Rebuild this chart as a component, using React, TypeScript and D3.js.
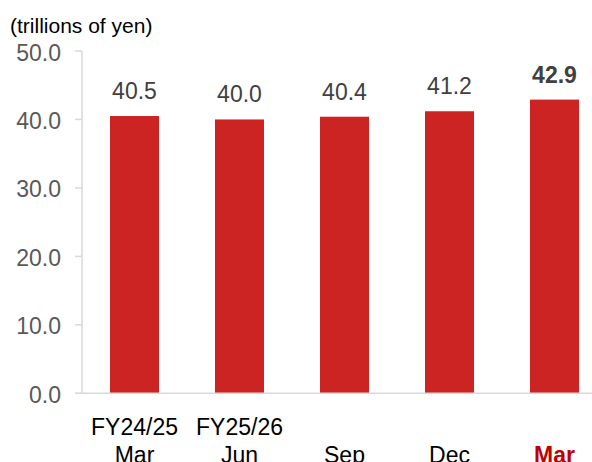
import React from "react";
import * as d3 from "d3";

const categories = ["FY24/25 Mar", "FY25/26 Jun", "Sep", "Dec", "Mar"];
const labelLine1 = ["FY24/25", "FY25/26", "", "", ""];
const labelLine2 = ["Mar", "Jun", "Sep", "Dec", "Mar"];
const values = [40.5, 40.0, 40.4, 41.2, 42.9];
const yTicks = [0, 10, 20, 30, 40, 50];
const unitLabel = "(trillions of yen)";

const W = 592;
const H = 462;
const FONT = "'Liberation Sans', Arial, Helvetica, sans-serif";

export default function App() {
  const x = d3.scaleBand<string>().domain(categories).range([82, 607]).paddingInner(0.5333).paddingOuter(0.2667);
  const y = d3.scaleLinear().domain([0, 50]).range([393.3, 51]);
  const last = categories.length - 1;
  const axisColor = "#d9d9d9";
  return (
    <svg width={W} height={H} style={{ position: "absolute", left: 0, top: 0 }} fontFamily={FONT}>
      <text x={10} y={33} fontSize={21} fill="#000">{unitLabel}</text>
      {yTicks.map((t) => (
        <g key={t}>
          <line x1={75} x2={82} y1={y(t)} y2={y(t)} stroke={axisColor} strokeWidth={1.5} />
          <text x={61} y={y(t) + 9.5} fontSize={23} fill="#595959" textAnchor="end">{t.toFixed(1)}</text>
        </g>
      ))}
      <line x1={82} x2={82} y1={y(50)} y2={y(0)} stroke={axisColor} strokeWidth={1.5} />
      {categories.map((c, i) => (
        <g key={c}>
          <rect x={x(c)} y={y(values[i])} width={x.bandwidth()} height={y(0) - y(values[i])} fill="#cc2323" />
          <text
            x={(x(c) as number) + x.bandwidth() / 2}
            y={y(values[i]) - 17}
            fontSize={23}
            fill="#404040"
            textAnchor="middle"
            fontWeight={i === last ? "bold" : "normal"}
          >
            {values[i].toFixed(1)}
          </text>
          {labelLine1[i] && (
            <text x={(x(c) as number) + x.bandwidth() / 2} y={434.5} fontSize={23} fill="#000" textAnchor="middle">
              {labelLine1[i]}
            </text>
          )}
          <text
            x={(x(c) as number) + x.bandwidth() / 2}
            y={463}
            fontSize={23}
            fill={i === last ? "#c00000" : "#000"}
            fontWeight={i === last ? "bold" : "normal"}
            textAnchor="middle"
          >
            {labelLine2[i]}
          </text>
        </g>
      ))}
      <line x1={75} x2={W} y1={y(0)} y2={y(0)} stroke={axisColor} strokeWidth={1.5} />
    </svg>
  );
}
